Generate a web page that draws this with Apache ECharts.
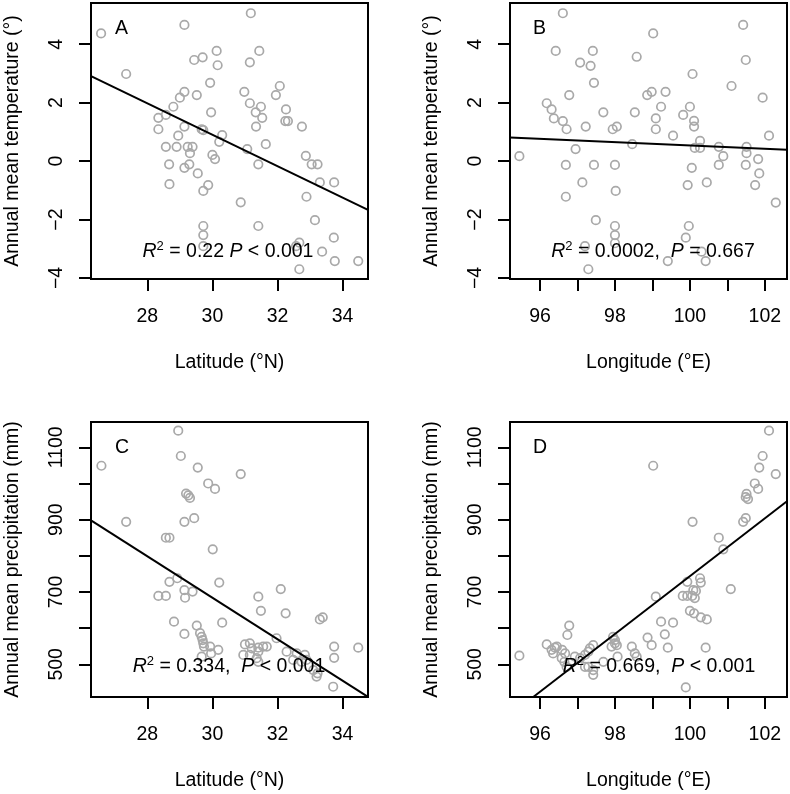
<!DOCTYPE html>
<html>
<head>
<meta charset="utf-8">
<script src="https://cdn.jsdelivr.net/npm/echarts@6/dist/echarts.min.js"></script>
<style>html,body{margin:0;padding:0;background:#fff}#c{width:790px;height:794px}</style>
</head>
<body>
<div id="c"></div>
<script>
// ---- Data ----
const latTicks = [28, 30, 32, 34];
const lonTicks = [96, 97, 98, 99, 100, 101, 102];
const lonLabels = [96, 98, 100, 102];
const tempTicks = [-4, -2, 0, 2, 4];
const precTicks = [500, 600, 700, 800, 900, 1000, 1100];
const precLabels = [500, 700, 900, 1100];

// Panel A: latitude vs annual mean temperature
const latTemp = [
[26.58,4.37],[29.14,4.66],[31.18,5.06],[27.35,2.98],[29.44,3.46],[29.70,3.55],[30.13,3.77],[30.16,3.28],[31.44,3.77],[31.15,3.38],
[29.93,2.68],[29.14,2.37],[29.00,2.17],[29.52,2.26],[28.80,1.86],[28.34,1.48],[28.57,1.58],[28.34,1.09],[29.14,1.18],[28.95,0.87],
[29.67,1.09],[29.72,1.06],[29.96,1.67],[30.30,0.89],[30.21,0.66],[30.98,2.37],[31.15,1.98],[31.49,1.86],[31.33,1.67],[31.53,1.48],
[31.34,1.18],[31.64,0.58],[31.07,0.41],[32.07,2.57],[31.95,2.26],[32.26,1.77],[32.24,1.37],[32.32,1.37],[32.75,1.18],
[28.57,0.49],[28.90,0.49],[29.24,0.49],[29.39,0.49],[29.31,0.27],[28.67,-0.11],[29.29,-0.11],[29.14,-0.23],[30.00,0.21],[30.08,0.07],
[31.41,-0.11],[29.55,-0.42],[28.68,-0.79],[29.87,-0.82],[29.72,-1.02],[32.87,0.18],[33.05,-0.11],[33.23,-0.11],[33.30,-0.73],[33.74,-0.73],
[32.89,-1.22],[30.87,-1.41],[33.15,-2.02],[31.41,-2.22],[29.72,-2.22],[29.72,-2.53],[29.72,-2.91],[32.67,-2.79],[32.57,-2.91],[33.73,-2.62],
[33.37,-3.10],[33.76,-3.42],[34.48,-3.42],[32.67,-3.70]
];
// Panel B: longitude vs annual mean temperature
const lonTemp = [
[96.61,5.06],[96.42,3.77],[97.41,3.77],[97.07,3.37],[97.35,3.26],[97.44,2.68],[96.78,2.26],[96.18,1.98],[96.31,1.77],[96.37,1.46],
[96.61,1.37],[96.71,1.09],[97.22,1.18],[97.69,1.67],[97.94,1.09],[98.05,1.18],[98.58,3.57],[99.02,4.37],[98.53,1.67],[98.86,2.26],
[98.98,2.37],[99.35,2.37],[99.23,1.86],[99.09,1.46],[99.09,1.09],[99.55,0.87],[98.46,0.58],[96.95,0.41],[100.07,2.98],[100.00,1.86],
[99.82,1.58],[100.11,1.38],[100.11,1.18],[100.27,0.69],[101.11,2.57],[101.42,4.66],[101.49,3.46],[101.94,2.17],[102.11,0.87],[100.77,0.49],
[101.51,0.49],[100.13,0.45],[100.27,0.45],[95.45,0.17],[100.89,0.17],[101.51,0.27],[101.82,0.07],[96.69,-0.13],[97.44,-0.13],[98.00,-0.13],
[100.05,-0.23],[100.77,-0.13],[101.49,-0.13],[101.85,-0.42],[97.13,-0.73],[98.02,-1.02],[99.94,-0.82],[100.45,-0.73],[101.74,-0.82],[96.69,-1.22],
[102.29,-1.42],[97.49,-2.02],[98.00,-2.22],[98.00,-2.53],[98.00,-2.81],[99.97,-2.22],[99.89,-2.62],[97.20,-2.91],[97.29,-3.70],[99.41,-3.42],
[100.31,-3.10],[100.42,-3.42]
];
// Panel C: latitude vs annual mean precipitation
const latPrec = [
[28.95,1146],[29.03,1076],[26.59,1049],[29.55,1044],[30.87,1026],[29.87,1000],[30.08,985],[29.19,972],[29.26,967],[29.31,960],
[27.35,894],[29.14,894],[29.44,904],[28.57,850],[28.68,850],[30.01,818],[28.68,728],[28.92,738],[30.21,726],[28.34,689],
[28.57,689],[29.14,705],[29.39,701],[29.16,684],[31.41,687],[32.10,708],[31.49,648],[32.25,641],[33.30,624],[33.39,630],
[28.82,618],[30.30,615],[29.52,607],[29.14,584],[29.62,586],[29.67,576],[29.70,567],[29.72,558],[29.74,549],[29.93,549],
[30.18,540],[29.67,521],[29.96,530],[31.00,555],[31.15,558],[31.21,544],[31.41,546],[31.56,549],[31.67,549],[30.95,526],
[31.15,526],[31.41,535],[31.36,517],[31.97,572],[32.28,535],[32.59,530],[32.84,526],[32.74,507],[32.48,512],[32.89,512],
[33.10,484],[33.23,475],[33.20,466],[33.74,549],[33.74,518],[34.48,546],[33.71,438],[31.41,507]
];
// Panel D: longitude vs annual mean precipitation
const lonPrec = [
[102.11,1146],[101.94,1076],[101.85,1044],[102.29,1026],[101.73,1000],[101.82,985],[101.51,971],[101.49,962],[101.55,957],[99.02,1049],
[100.07,894],[101.42,894],[101.49,904],[100.77,850],[100.89,818],[99.09,687],[101.09,708],[99.93,728],[100.27,738],[100.29,726],
[99.81,689],[99.93,689],[100.06,689],[100.16,703],[100.09,705],[100.13,683],[100.00,648],[100.11,641],[100.29,630],[100.45,624],
[99.23,618],[99.55,615],[96.78,607],[96.73,581],[99.33,583],[98.87,574],[98.98,553],[99.41,546],[100.42,546],[97.95,576],
[98.00,567],[98.00,558],[97.91,549],[98.05,553],[98.07,521],[98.45,549],[98.53,530],[98.58,521],[96.18,555],[96.31,540],
[96.35,530],[96.40,546],[96.45,549],[96.59,540],[96.67,530],[96.58,517],[96.65,507],[96.71,493],[96.93,521],[97.07,517],
[97.20,526],[97.29,535],[97.33,544],[97.42,553],[97.20,493],[97.29,493],[97.42,484],[97.42,471],[97.69,507],[95.45,524],
[99.89,436]
];
// Regression line end points
const fitA = [[26.27, 2.91], [34.78, -1.67]];
const fitB = [[95.20, 0.81], [102.59, 0.39]];
const fitC = [[26.27, 898], [34.78, 410]];
const fitD = [[95.82, 409.6], [102.59, 951]];

const panelLetters = ['A', 'B', 'C', 'D'];
const statTexts = [
  '{i|R}{s|2}{n| = 0.22 }{i|P}{n| < 0.001}',
  '{i|R}{s|2}{n| = 0.0002,  }{i|P}{n| = 0.667}',
  '{i|R}{s|2}{n| = 0.334,  }{i|P}{n| < 0.001}',
  '{i|R}{s|2}{n| = 0.669,  }{i|P}{n| < 0.001}'
];

// ---- Chart ----
const FONT = 'Liberation Sans, Arial, Helvetica, sans-serif';
const FS = 19.5;
const minusFmt = v => (v < 0 ? '\u2212' + Math.abs(v) : String(v));

const grids = [
  {left: 91, top: 3, width: 277, height: 276},
  {left: 510, top: 3, width: 277, height: 276},
  {left: 91, top: 422, width: 277, height: 275},
  {left: 510, top: 422, width: 277, height: 275}
].map(g => Object.assign(g, {show: true, borderColor: '#000', borderWidth: 2, backgroundColor: 'rgba(0,0,0,0)'}));

function xAx(i, min, max, ticks, labels, name) {
  return {
    type: 'value', gridIndex: i, min, max, position: 'bottom',
    axisLine: {show: false, onZero: false}, splitLine: {show: false},
    axisTick: {show: true, length: 12, customValues: ticks, lineStyle: {color: '#000', width: 2}},
    axisLabel: {customValues: labels, margin: 28, color: '#000', fontSize: FS, fontFamily: FONT, formatter: minusFmt},
    name, nameLocation: 'middle', nameGap: 74,
    nameTextStyle: {color: '#000', fontSize: FS, fontFamily: FONT}
  };
}
function yAx(i, min, max, ticks, labels, name) {
  return {
    type: 'value', gridIndex: i, min, max, position: 'left',
    axisLine: {show: false, onZero: false}, splitLine: {show: false},
    axisTick: {show: true, length: 12, customValues: ticks, lineStyle: {color: '#000', width: 2}},
    axisLabel: {customValues: labels, rotate: 90, margin: 24, color: '#000', fontSize: FS, fontFamily: FONT, formatter: minusFmt},
    name, nameLocation: 'middle', nameGap: 68,
    nameTextStyle: {color: '#000', fontSize: FS, fontFamily: FONT}
  };
}

const latRange = [26.27, 34.78], lonRange = [95.20, 102.59];
const tempRange = [-4.034, 5.41], precRange = [409.6, 1170];

const xAxes = [
  xAx(0, latRange[0], latRange[1], latTicks, latTicks, 'Latitude (\u00b0N)'),
  xAx(1, lonRange[0], lonRange[1], lonTicks, lonLabels, 'Longitude (\u00b0E)'),
  xAx(2, latRange[0], latRange[1], latTicks, latTicks, 'Latitude (\u00b0N)'),
  xAx(3, lonRange[0], lonRange[1], lonTicks, lonLabels, 'Longitude (\u00b0E)')
];
const yAxes = [
  yAx(0, tempRange[0], tempRange[1], tempTicks, tempTicks, 'Annual mean temperature (\u00b0)'),
  yAx(1, tempRange[0], tempRange[1], tempTicks, tempTicks, 'Annual mean temperature (\u00b0)'),
  yAx(2, precRange[0], precRange[1], precTicks, precLabels, 'Annual mean precipitation (mm)'),
  yAx(3, precRange[0], precRange[1], precTicks, precLabels, 'Annual mean precipitation (mm)')
];

const pointSets = [latTemp, lonTemp, latPrec, lonPrec];
const fits = [fitA, fitB, fitC, fitD];
const series = [];
pointSets.forEach((d, i) => {
  series.push({
    type: 'scatter', xAxisIndex: i, yAxisIndex: i, data: d, silent: true, z: 2,
    symbol: 'circle', symbolSize: 8.5,
    itemStyle: {color: 'rgba(0,0,0,0)', borderColor: '#a9a9a9', borderWidth: 1.7, opacity: 1}
  });
  series.push({
    type: 'line', xAxisIndex: i, yAxisIndex: i, data: fits[i], silent: true, z: 3,
    symbol: 'none', clip: true, lineStyle: {color: '#000', width: 2}
  });
});

const letterPos = [[115, 29], [533, 29], [115, 448], [533, 448]];
const statPos = [[228, 252], [653, 252], [229, 667], [659, 667]];
const graphics = [];
letterPos.forEach((p, i) => {
  graphics.push({type: 'text', x: p[0], y: p[1], z: 10,
    style: {text: panelLetters[i], fill: '#000', fontSize: FS, fontFamily: FONT, align: 'left', verticalAlign: 'middle'}});
});
statPos.forEach((p, i) => {
  graphics.push({type: 'text', x: p[0], y: p[1], z: 10,
    style: {
      text: statTexts[i], align: 'center', verticalAlign: 'middle', fill: '#000',
      fontSize: FS, fontFamily: FONT,
      rich: {
        n: {fontSize: FS, fontFamily: FONT, fill: '#000', lineHeight: 24},
        i: {fontSize: FS, fontFamily: FONT, fontStyle: 'italic', fill: '#000', lineHeight: 24},
        s: {fontSize: 13, fontFamily: FONT, fill: '#000', lineHeight: 13, verticalAlign: 'top'}
      }
    }});
});

const chart = echarts.init(document.getElementById('c'), null, {renderer: 'canvas'});
chart.setOption({
  animation: false,
  backgroundColor: '#fff',
  grid: grids,
  xAxis: xAxes,
  yAxis: yAxes,
  series,
  graphic: graphics
});
</script>
</body>
</html>
